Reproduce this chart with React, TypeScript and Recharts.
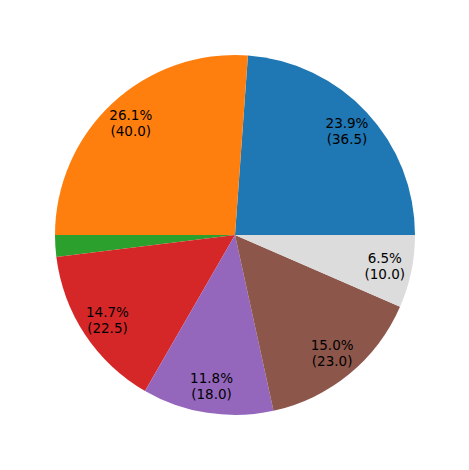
import { Cell, Pie, PieChart } from "recharts"

const categories = ["A", "B", "C", "D", "E", "F", "G"]
const values = [36.5, 40.0, 3.0, 22.5, 18.0, 23.0, 10.0]
const colors = ["#1f77b4", "#ff7f0e", "#2ca02c", "#d62728", "#9467bd", "#8c564b", "#dcdcdc"]

const data = categories.map((name, i) => ({ name, value: values[i] }))

const RAD = Math.PI / 180

const renderLabel = (props: any) => {
  const { cx, cy, midAngle, outerRadius, percent, value } = props
  if (percent < 0.03) return null
  const r = outerRadius * 0.85
  const x = cx + r * Math.cos(-midAngle * RAD)
  const y = cy + r * Math.sin(-midAngle * RAD)
  return (
    <text
      x={x}
      y={y}
      textAnchor="middle"
      fill="#000"
      fontSize={13.5}
      fontFamily="DejaVu Sans"
    >
      <tspan x={x} dy={-3}>{(percent * 100).toFixed(1)}%</tspan>
      <tspan x={x} dy={16}>({value.toFixed(1)})</tspan>
    </text>
  )
}

export default function App() {
  return (
    <div style={{ position: "absolute", left: 0, top: 0 }}>
      <PieChart width={469} height={470} margin={{ top: 0, right: 0, bottom: 0, left: 0 }}>
        <Pie
          data={data}
          dataKey="value"
          cx={235}
          cy={235}
          outerRadius={180}
          startAngle={0}
          endAngle={360}
          stroke="none"
          label={renderLabel}
          labelLine={false}
          isAnimationActive={false}
        >
          {data.map((d, i) => (
            <Cell key={d.name} fill={colors[i]} />
          ))}
        </Pie>
      </PieChart>
    </div>
  )
}
